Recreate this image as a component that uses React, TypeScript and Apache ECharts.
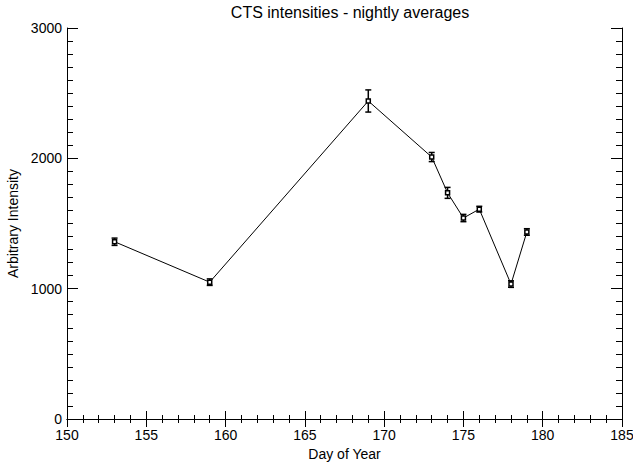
import React, { useEffect, useRef } from "react";
import * as echarts from "echarts";

const days = [153, 159, 169, 173, 174, 175, 176, 178, 179];
const intensities = [1360, 1050, 2440, 2010, 1735, 1542, 1610, 1035, 1435];
const errors = [28, 25, 85, 35, 42, 28, 22, 25, 25];
const xTicks = [150, 155, 160, 165, 170, 175, 180, 185];
const yTicks = [0, 1000, 2000, 3000];

const FONT = "'Liberation Sans', 'DejaVu Sans', sans-serif";

export default function App() {
  const ref = useRef<HTMLDivElement>(null);
  useEffect(() => {
    if (!ref.current) return;
    const chart = echarts.init(ref.current, undefined, { renderer: "svg" });
    const lineData = days.map((d, i) => [d, intensities[i]]);
    const errData = days.map((d, i) => [d, intensities[i] - errors[i], intensities[i] + errors[i]]);
    const axisLine = { show: true, lineStyle: { color: "#000", width: 1 } };
    const xBase = {
      type: "value" as const,
      min: xTicks[0],
      max: xTicks[xTicks.length - 1],
      interval: 5,
      axisLine,
      splitLine: { show: false },
      axisTick: { show: true, inside: true, length: 8, lineStyle: { color: "#000" } },
      minorTick: { show: true, splitNumber: 5, length: 4, lineStyle: { color: "#000" } },
    };
    const yBase = {
      type: "value" as const,
      min: yTicks[0],
      max: yTicks[yTicks.length - 1],
      interval: 1000,
      axisLine,
      splitLine: { show: false },
      axisTick: { show: true, inside: true, length: 11, lineStyle: { color: "#000" } },
      minorTick: { show: true, splitNumber: 10, length: 6, lineStyle: { color: "#000" } },
    };
    chart.setOption({
      animation: false,
      backgroundColor: "#fff",
      title: {
        text: "CTS intensities - nightly averages",
        left: 345,
        textAlign: "center",
        top: -1,
        textStyle: { fontFamily: FONT, fontSize: 16, fontWeight: "normal", color: "#000" },
      },
      grid: { left: 67, right: 11, top: 28, bottom: 46, containLabel: false, outerBoundsMode: "none" },
      xAxis: [
        {
          ...xBase,
          position: "bottom",
          name: "Day of Year",
          nameLocation: "middle",
          nameGap: 28,
          nameTextStyle: { fontFamily: FONT, fontSize: 14, color: "#000" },
          axisLabel: {
            show: true,
            margin: 9,
            color: "#000",
            fontFamily: FONT,
            fontSize: 14,
            formatter: (v: number) => String(v),
          },
        },
        { ...xBase, position: "top", axisLabel: { show: false } },
      ],
      yAxis: [
        {
          ...yBase,
          position: "left",
          name: "Arbitrary Intensity",
          nameLocation: "middle",
          nameGap: 46,
          nameTextStyle: { fontFamily: FONT, fontSize: 14, color: "#000" },
          axisLabel: {
            show: true,
            margin: 5,
            color: "#000",
            fontFamily: FONT,
            fontSize: 14,
            formatter: (v: number) => String(v),
          },
        },
        { ...yBase, position: "right", axisLabel: { show: false } },
      ],
      series: [
        {
          type: "line",
          data: lineData,
          xAxisIndex: 0,
          yAxisIndex: 0,
          symbol: "rect",
          symbolSize: 4,
          lineStyle: { color: "#000", width: 1 },
          itemStyle: { color: "#fff", borderColor: "#000", borderWidth: 1.5 },
        },
        {
          type: "custom",
          xAxisIndex: 0,
          yAxisIndex: 0,
          data: errData,
          z: 3,
          renderItem: (params: any, api: any) => {
            const x = api.value(0);
            const lo = api.coord([x, api.value(1)]);
            const hi = api.coord([x, api.value(2)]);
            const hw = 3;
            const style = { stroke: "#000", lineWidth: 1.5 };
            return {
              type: "group",
              children: [
                { type: "line", shape: { x1: lo[0], y1: lo[1], x2: hi[0], y2: hi[1] }, style },
                { type: "line", shape: { x1: lo[0] - hw, y1: lo[1], x2: lo[0] + hw, y2: lo[1] }, style },
                { type: "line", shape: { x1: hi[0] - hw, y1: hi[1], x2: hi[0] + hw, y2: hi[1] }, style },
              ],
            };
          },
        },
      ],
    });
    return () => chart.dispose();
  }, []);
  return (
    <div
      ref={ref}
      style={{ position: "fixed", left: 0, top: 0, width: 633, height: 465, background: "#fff" }}
    />
  );
}
